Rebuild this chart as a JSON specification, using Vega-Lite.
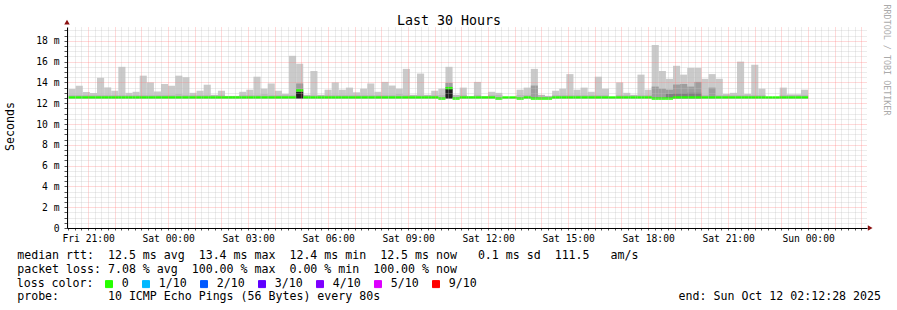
{
 "$schema": "https://vega.github.io/schema/vega-lite/v6.json",
 "width": 800, "height": 201,
 "autosize": {"type": "none"},
 "padding": {"left": 67, "top": 27, "right": 30, "bottom": 82},
 "background": "white",
 "config": {"font": "DejaVu Sans Mono", "view": {"stroke": null}},
 "datasets": {
  "smoke": [
   {"t":"2025-10-10T20:16:00Z","e":"2025-10-10T20:32:00Z","lo":12.45,"hi":13.37,"mid":12.8,"med":12.55,"loss":"0"},
   {"t":"2025-10-10T20:32:00Z","e":"2025-10-10T20:48:00Z","lo":12.45,"hi":13.68,"mid":12.8,"med":12.55,"loss":"0"},
   {"t":"2025-10-10T20:48:00Z","e":"2025-10-10T21:04:00Z","lo":12.45,"hi":13.08,"mid":12.8,"med":12.55,"loss":"0"},
   {"t":"2025-10-10T21:04:00Z","e":"2025-10-10T21:20:00Z","lo":12.45,"hi":12.98,"mid":12.8,"med":12.55,"loss":"0"},
   {"t":"2025-10-10T21:20:00Z","e":"2025-10-10T21:36:00Z","lo":12.45,"hi":14.45,"mid":12.8,"med":12.55,"loss":"0"},
   {"t":"2025-10-10T21:36:00Z","e":"2025-10-10T21:52:00Z","lo":12.45,"hi":13.52,"mid":12.8,"med":12.55,"loss":"0"},
   {"t":"2025-10-10T21:52:00Z","e":"2025-10-10T22:08:00Z","lo":12.45,"hi":13.2,"mid":12.8,"med":12.55,"loss":"0"},
   {"t":"2025-10-10T22:08:00Z","e":"2025-10-10T22:24:00Z","lo":12.45,"hi":15.5,"mid":12.8,"med":12.55,"loss":"0"},
   {"t":"2025-10-10T22:24:00Z","e":"2025-10-10T22:40:00Z","lo":12.45,"hi":13.0,"mid":12.8,"med":12.55,"loss":"0"},
   {"t":"2025-10-10T22:40:00Z","e":"2025-10-10T22:56:00Z","lo":12.45,"hi":13.1,"mid":12.8,"med":12.55,"loss":"0"},
   {"t":"2025-10-10T22:56:00Z","e":"2025-10-10T23:12:00Z","lo":12.45,"hi":14.65,"mid":12.8,"med":12.55,"loss":"0"},
   {"t":"2025-10-10T23:12:00Z","e":"2025-10-10T23:28:00Z","lo":12.45,"hi":14.0,"mid":12.8,"med":12.55,"loss":"0"},
   {"t":"2025-10-10T23:28:00Z","e":"2025-10-10T23:44:00Z","lo":12.45,"hi":13.13,"mid":12.8,"med":12.55,"loss":"0"},
   {"t":"2025-10-10T23:44:00Z","e":"2025-10-11T00:00:00Z","lo":12.45,"hi":13.85,"mid":12.8,"med":12.55,"loss":"0"},
   {"t":"2025-10-11T00:00:00Z","e":"2025-10-11T00:16:00Z","lo":12.45,"hi":13.68,"mid":12.8,"med":12.55,"loss":"0"},
   {"t":"2025-10-11T00:16:00Z","e":"2025-10-11T00:32:00Z","lo":12.45,"hi":14.65,"mid":12.87,"med":12.55,"loss":"0"},
   {"t":"2025-10-11T00:32:00Z","e":"2025-10-11T00:48:00Z","lo":12.45,"hi":14.5,"mid":12.8,"med":12.55,"loss":"0"},
   {"t":"2025-10-11T00:48:00Z","e":"2025-10-11T01:04:00Z","lo":12.45,"hi":13.0,"mid":12.8,"med":12.55,"loss":"0"},
   {"t":"2025-10-11T01:04:00Z","e":"2025-10-11T01:20:00Z","lo":12.45,"hi":13.2,"mid":12.8,"med":12.55,"loss":"0"},
   {"t":"2025-10-11T01:20:00Z","e":"2025-10-11T01:36:00Z","lo":12.45,"hi":13.78,"mid":12.8,"med":12.55,"loss":"0"},
   {"t":"2025-10-11T01:36:00Z","e":"2025-10-11T01:52:00Z","lo":12.45,"hi":12.8,"mid":12.8,"med":12.55,"loss":"0"},
   {"t":"2025-10-11T01:52:00Z","e":"2025-10-11T02:08:00Z","lo":12.45,"hi":13.2,"mid":12.8,"med":12.55,"loss":"0"},
   {"t":"2025-10-11T02:08:00Z","e":"2025-10-11T02:24:00Z","lo":12.45,"hi":12.7,"mid":12.7,"med":12.55,"loss":"0"},
   {"t":"2025-10-11T02:24:00Z","e":"2025-10-11T02:40:00Z","lo":12.45,"hi":12.7,"mid":12.7,"med":12.55,"loss":"0"},
   {"t":"2025-10-11T02:40:00Z","e":"2025-10-11T02:56:00Z","lo":12.45,"hi":13.1,"mid":12.8,"med":12.55,"loss":"0"},
   {"t":"2025-10-11T02:56:00Z","e":"2025-10-11T03:12:00Z","lo":12.45,"hi":13.3,"mid":12.8,"med":12.55,"loss":"0"},
   {"t":"2025-10-11T03:12:00Z","e":"2025-10-11T03:28:00Z","lo":12.45,"hi":14.55,"mid":12.8,"med":12.55,"loss":"0"},
   {"t":"2025-10-11T03:28:00Z","e":"2025-10-11T03:44:00Z","lo":12.45,"hi":13.4,"mid":12.87,"med":12.55,"loss":"0"},
   {"t":"2025-10-11T03:44:00Z","e":"2025-10-11T04:00:00Z","lo":12.45,"hi":13.9,"mid":12.8,"med":12.55,"loss":"0"},
   {"t":"2025-10-11T04:00:00Z","e":"2025-10-11T04:16:00Z","lo":12.45,"hi":13.2,"mid":12.8,"med":12.55,"loss":"0"},
   {"t":"2025-10-11T04:16:00Z","e":"2025-10-11T04:32:00Z","lo":12.45,"hi":12.9,"mid":12.8,"med":12.55,"loss":"0"},
   {"t":"2025-10-11T04:32:00Z","e":"2025-10-11T04:48:00Z","lo":12.45,"hi":16.56,"mid":12.8,"med":12.55,"loss":"0"},
   {"t":"2025-10-11T04:48:00Z","e":"2025-10-11T05:04:00Z","lo":12.45,"hi":15.8,"mid":12.8,"med":13.23,"loss":"0","dk":13.9,"bk":13.1},
   {"t":"2025-10-11T05:04:00Z","e":"2025-10-11T05:20:00Z","lo":12.45,"hi":12.8,"mid":12.8,"med":12.55,"loss":"0"},
   {"t":"2025-10-11T05:20:00Z","e":"2025-10-11T05:36:00Z","lo":12.45,"hi":15.1,"mid":12.8,"med":12.55,"loss":"0"},
   {"t":"2025-10-11T05:36:00Z","e":"2025-10-11T05:52:00Z","lo":12.45,"hi":12.8,"mid":12.8,"med":12.55,"loss":"0"},
   {"t":"2025-10-11T05:52:00Z","e":"2025-10-11T06:08:00Z","lo":12.45,"hi":13.3,"mid":12.8,"med":12.55,"loss":"0"},
   {"t":"2025-10-11T06:08:00Z","e":"2025-10-11T06:24:00Z","lo":12.45,"hi":14.0,"mid":12.8,"med":12.55,"loss":"0"},
   {"t":"2025-10-11T06:24:00Z","e":"2025-10-11T06:40:00Z","lo":12.45,"hi":13.3,"mid":12.8,"med":12.55,"loss":"0"},
   {"t":"2025-10-11T06:40:00Z","e":"2025-10-11T06:56:00Z","lo":12.45,"hi":13.5,"mid":12.8,"med":12.55,"loss":"0"},
   {"t":"2025-10-11T06:56:00Z","e":"2025-10-11T07:12:00Z","lo":12.45,"hi":13.05,"mid":12.8,"med":12.55,"loss":"0"},
   {"t":"2025-10-11T07:12:00Z","e":"2025-10-11T07:28:00Z","lo":12.45,"hi":13.4,"mid":12.8,"med":12.55,"loss":"0"},
   {"t":"2025-10-11T07:28:00Z","e":"2025-10-11T07:44:00Z","lo":12.45,"hi":13.9,"mid":12.8,"med":12.55,"loss":"0"},
   {"t":"2025-10-11T07:44:00Z","e":"2025-10-11T08:00:00Z","lo":12.45,"hi":13.1,"mid":12.8,"med":12.55,"loss":"0"},
   {"t":"2025-10-11T08:00:00Z","e":"2025-10-11T08:16:00Z","lo":12.45,"hi":14.05,"mid":12.8,"med":12.55,"loss":"0"},
   {"t":"2025-10-11T08:16:00Z","e":"2025-10-11T08:32:00Z","lo":12.45,"hi":13.7,"mid":12.8,"med":12.55,"loss":"0"},
   {"t":"2025-10-11T08:32:00Z","e":"2025-10-11T08:48:00Z","lo":12.45,"hi":13.4,"mid":12.87,"med":12.55,"loss":"0"},
   {"t":"2025-10-11T08:48:00Z","e":"2025-10-11T09:04:00Z","lo":12.45,"hi":15.3,"mid":12.8,"med":12.55,"loss":"0"},
   {"t":"2025-10-11T09:04:00Z","e":"2025-10-11T09:20:00Z","lo":12.45,"hi":12.8,"mid":12.8,"med":12.55,"loss":"0"},
   {"t":"2025-10-11T09:20:00Z","e":"2025-10-11T09:36:00Z","lo":12.45,"hi":14.85,"mid":12.8,"med":12.55,"loss":"0"},
   {"t":"2025-10-11T09:36:00Z","e":"2025-10-11T09:52:00Z","lo":12.45,"hi":12.8,"mid":12.8,"med":12.55,"loss":"0"},
   {"t":"2025-10-11T09:52:00Z","e":"2025-10-11T10:08:00Z","lo":12.45,"hi":13.2,"mid":12.8,"med":12.55,"loss":"0"},
   {"t":"2025-10-11T10:08:00Z","e":"2025-10-11T10:24:00Z","lo":12.45,"hi":13.4,"mid":12.8,"med":12.45,"loss":"0"},
   {"t":"2025-10-11T10:24:00Z","e":"2025-10-11T10:40:00Z","lo":12.45,"hi":15.5,"mid":12.8,"med":13.45,"loss":"0","dk":13.95,"bk":13.36},
   {"t":"2025-10-11T10:40:00Z","e":"2025-10-11T10:56:00Z","lo":12.45,"hi":12.8,"mid":12.8,"med":12.45,"loss":"0"},
   {"t":"2025-10-11T10:56:00Z","e":"2025-10-11T11:12:00Z","lo":12.45,"hi":13.5,"mid":12.8,"med":12.55,"loss":"0"},
   {"t":"2025-10-11T11:12:00Z","e":"2025-10-11T11:28:00Z","lo":12.45,"hi":12.65,"mid":12.65,"med":12.55,"loss":"0"},
   {"t":"2025-10-11T11:28:00Z","e":"2025-10-11T11:44:00Z","lo":12.45,"hi":14.05,"mid":12.8,"med":12.55,"loss":"0"},
   {"t":"2025-10-11T11:44:00Z","e":"2025-10-11T12:00:00Z","lo":12.45,"hi":12.65,"mid":12.65,"med":12.55,"loss":"0"},
   {"t":"2025-10-11T12:00:00Z","e":"2025-10-11T12:16:00Z","lo":12.45,"hi":13.1,"mid":12.8,"med":12.55,"loss":"0"},
   {"t":"2025-10-11T12:16:00Z","e":"2025-10-11T12:32:00Z","lo":12.45,"hi":13.0,"mid":12.8,"med":12.45,"loss":"0"},
   {"t":"2025-10-11T12:32:00Z","e":"2025-10-11T12:48:00Z","lo":12.45,"hi":12.6,"mid":12.6,"med":12.55,"loss":"0"},
   {"t":"2025-10-11T12:48:00Z","e":"2025-10-11T13:04:00Z","lo":12.45,"hi":12.6,"mid":12.6,"med":12.55,"loss":"0"},
   {"t":"2025-10-11T13:04:00Z","e":"2025-10-11T13:20:00Z","lo":12.45,"hi":13.3,"mid":12.8,"med":12.45,"loss":"0"},
   {"t":"2025-10-11T13:20:00Z","e":"2025-10-11T13:36:00Z","lo":12.45,"hi":13.5,"mid":12.8,"med":12.55,"loss":"0"},
   {"t":"2025-10-11T13:36:00Z","e":"2025-10-11T13:52:00Z","lo":12.45,"hi":15.3,"mid":12.8,"med":12.45,"loss":"0","dk":13.7},
   {"t":"2025-10-11T13:52:00Z","e":"2025-10-11T14:08:00Z","lo":12.45,"hi":12.8,"mid":12.8,"med":12.45,"loss":"0"},
   {"t":"2025-10-11T14:08:00Z","e":"2025-10-11T14:24:00Z","lo":12.45,"hi":12.7,"mid":12.7,"med":12.45,"loss":"0"},
   {"t":"2025-10-11T14:24:00Z","e":"2025-10-11T14:40:00Z","lo":12.45,"hi":13.2,"mid":12.8,"med":12.55,"loss":"0"},
   {"t":"2025-10-11T14:40:00Z","e":"2025-10-11T14:56:00Z","lo":12.45,"hi":13.4,"mid":12.8,"med":12.55,"loss":"0"},
   {"t":"2025-10-11T14:56:00Z","e":"2025-10-11T15:12:00Z","lo":12.45,"hi":14.8,"mid":12.8,"med":12.55,"loss":"0"},
   {"t":"2025-10-11T15:12:00Z","e":"2025-10-11T15:28:00Z","lo":12.45,"hi":13.3,"mid":12.8,"med":12.55,"loss":"0"},
   {"t":"2025-10-11T15:28:00Z","e":"2025-10-11T15:44:00Z","lo":12.45,"hi":13.5,"mid":12.8,"med":12.55,"loss":"0"},
   {"t":"2025-10-11T15:44:00Z","e":"2025-10-11T16:00:00Z","lo":12.45,"hi":13.1,"mid":12.8,"med":12.55,"loss":"0"},
   {"t":"2025-10-11T16:00:00Z","e":"2025-10-11T16:16:00Z","lo":12.45,"hi":14.55,"mid":12.8,"med":12.55,"loss":"0"},
   {"t":"2025-10-11T16:16:00Z","e":"2025-10-11T16:32:00Z","lo":12.45,"hi":13.4,"mid":12.8,"med":12.55,"loss":"0"},
   {"t":"2025-10-11T16:32:00Z","e":"2025-10-11T16:48:00Z","lo":12.45,"hi":12.6,"mid":12.6,"med":12.55,"loss":"0"},
   {"t":"2025-10-11T16:48:00Z","e":"2025-10-11T17:04:00Z","lo":12.45,"hi":14.0,"mid":12.8,"med":12.55,"loss":"0"},
   {"t":"2025-10-11T17:04:00Z","e":"2025-10-11T17:20:00Z","lo":12.45,"hi":13.0,"mid":12.8,"med":12.55,"loss":"0"},
   {"t":"2025-10-11T17:20:00Z","e":"2025-10-11T17:36:00Z","lo":12.45,"hi":12.8,"mid":12.8,"med":12.55,"loss":"0"},
   {"t":"2025-10-11T17:36:00Z","e":"2025-10-11T17:52:00Z","lo":12.45,"hi":14.75,"mid":12.8,"med":12.55,"loss":"0"},
   {"t":"2025-10-11T17:52:00Z","e":"2025-10-11T18:08:00Z","lo":12.45,"hi":13.3,"mid":12.8,"med":12.55,"loss":"0"},
   {"t":"2025-10-11T18:08:00Z","e":"2025-10-11T18:24:00Z","lo":12.45,"hi":17.6,"mid":12.8,"med":12.45,"loss":"0","dk":13.6},
   {"t":"2025-10-11T18:24:00Z","e":"2025-10-11T18:40:00Z","lo":12.45,"hi":15.1,"mid":12.8,"med":12.45,"loss":"0","dk":13.4},
   {"t":"2025-10-11T18:40:00Z","e":"2025-10-11T18:56:00Z","lo":12.45,"hi":14.35,"mid":12.8,"med":12.45,"loss":"0","dk":13.3,"dd":12.9},
   {"t":"2025-10-11T18:56:00Z","e":"2025-10-11T19:12:00Z","lo":12.45,"hi":15.6,"mid":12.8,"med":12.55,"loss":"0","dk":13.8,"dd":12.95},
   {"t":"2025-10-11T19:12:00Z","e":"2025-10-11T19:28:00Z","lo":12.45,"hi":14.75,"mid":12.8,"med":12.55,"loss":"0","dk":13.85,"dd":12.95},
   {"t":"2025-10-11T19:28:00Z","e":"2025-10-11T19:44:00Z","lo":12.45,"hi":15.4,"mid":12.8,"med":12.55,"loss":"0","dk":13.6,"dd":13.0},
   {"t":"2025-10-11T19:44:00Z","e":"2025-10-11T20:00:00Z","lo":12.45,"hi":15.4,"mid":12.8,"med":12.55,"loss":"0","dk":14.05,"dd":13.0},
   {"t":"2025-10-11T20:00:00Z","e":"2025-10-11T20:16:00Z","lo":12.45,"hi":14.35,"mid":12.8,"med":12.55,"loss":"0"},
   {"t":"2025-10-11T20:16:00Z","e":"2025-10-11T20:32:00Z","lo":12.45,"hi":14.8,"mid":12.8,"med":12.55,"loss":"0","dk":13.5},
   {"t":"2025-10-11T20:32:00Z","e":"2025-10-11T20:48:00Z","lo":12.45,"hi":14.35,"mid":12.8,"med":12.55,"loss":"0"},
   {"t":"2025-10-11T20:48:00Z","e":"2025-10-11T21:04:00Z","lo":12.45,"hi":12.9,"mid":12.8,"med":12.55,"loss":"0"},
   {"t":"2025-10-11T21:04:00Z","e":"2025-10-11T21:20:00Z","lo":12.45,"hi":13.0,"mid":12.8,"med":12.55,"loss":"0"},
   {"t":"2025-10-11T21:20:00Z","e":"2025-10-11T21:36:00Z","lo":12.45,"hi":16.0,"mid":12.8,"med":12.55,"loss":"0"},
   {"t":"2025-10-11T21:36:00Z","e":"2025-10-11T21:52:00Z","lo":12.45,"hi":12.9,"mid":12.8,"med":12.55,"loss":"0"},
   {"t":"2025-10-11T21:52:00Z","e":"2025-10-11T22:08:00Z","lo":12.45,"hi":15.7,"mid":12.8,"med":12.55,"loss":"0"},
   {"t":"2025-10-11T22:08:00Z","e":"2025-10-11T22:24:00Z","lo":12.45,"hi":13.4,"mid":12.8,"med":12.55,"loss":"0"},
   {"t":"2025-10-11T22:24:00Z","e":"2025-10-11T22:40:00Z","lo":12.45,"hi":12.6,"mid":12.6,"med":12.55,"loss":"0"},
   {"t":"2025-10-11T22:40:00Z","e":"2025-10-11T22:56:00Z","lo":12.45,"hi":12.6,"mid":12.6,"med":12.55,"loss":"0"},
   {"t":"2025-10-11T22:56:00Z","e":"2025-10-11T23:12:00Z","lo":12.45,"hi":13.5,"mid":12.8,"med":12.55,"loss":"0"},
   {"t":"2025-10-11T23:12:00Z","e":"2025-10-11T23:28:00Z","lo":12.45,"hi":12.85,"mid":12.8,"med":12.55,"loss":"0"},
   {"t":"2025-10-11T23:28:00Z","e":"2025-10-11T23:44:00Z","lo":12.45,"hi":12.85,"mid":12.8,"med":12.55,"loss":"0"},
   {"t":"2025-10-11T23:44:00Z","e":"2025-10-12T00:00:00Z","lo":12.45,"hi":13.3,"mid":12.8,"med":12.55,"loss":"0"}
  ]
 },
 "data": {"name": "smoke"},
 "layer": [
  {
   "mark": {"type": "rect", "color": "#cacaca"},
   "encoding": {
    "x": {"field": "t", "type": "temporal",
     "scale": {"type": "utc", "domain": [{"year": 2025, "month": "oct", "date": 10, "hours": 20, "minutes": 12, "seconds": 28, "utc": true}, {"year": 2025, "month": "oct", "date": 12, "hours": 2, "minutes": 12, "seconds": 28, "utc": true}], "nice": false},
     "axis": {
      "orient": "bottom",
      "values": [1760127300000,1760128200000,1760129100000,
       1760130000000,1760130900000,1760131800000,1760132700000,
       1760133600000,1760134500000,1760135400000,1760136300000,
       1760137200000,1760138100000,1760139000000,1760139900000,
       1760140800000,1760141700000,1760142600000,1760143500000,
       1760144400000,1760145300000,1760146200000,1760147100000,
       1760148000000,1760148900000,1760149800000,1760150700000,
       1760151600000,1760152500000,1760153400000,1760154300000,
       1760155200000,1760156100000,1760157000000,1760157900000,
       1760158800000,1760159700000,1760160600000,1760161500000,
       1760162400000,1760163300000,1760164200000,1760165100000,
       1760166000000,1760166900000,1760167800000,1760168700000,
       1760169600000,1760170500000,1760171400000,1760172300000,
       1760173200000,1760174100000,1760175000000,1760175900000,
       1760176800000,1760177700000,1760178600000,1760179500000,
       1760180400000,1760181300000,1760182200000,1760183100000,
       1760184000000,1760184900000,1760185800000,1760186700000,
       1760187600000,1760188500000,1760189400000,1760190300000,
       1760191200000,1760192100000,1760193000000,1760193900000,
       1760194800000,1760195700000,1760196600000,1760197500000,
       1760198400000,1760199300000,1760200200000,1760201100000,
       1760202000000,1760202900000,1760203800000,1760204700000,
       1760205600000,1760206500000,1760207400000,1760208300000,
       1760209200000,1760210100000,1760211000000,1760211900000,
       1760212800000,1760213700000,1760214600000,1760215500000,
       1760216400000,1760217300000,1760218200000,1760219100000,
       1760220000000,1760220900000,1760221800000,1760222700000,
       1760223600000,1760224500000,1760225400000,1760226300000,
       1760227200000,1760228100000,1760229000000,1760229900000,
       1760230800000,1760231700000,1760232600000,1760233500000,
       1760234400000],
      "labelExpr": "utcminutes(datum.value) == 0 && utchours(datum.value) % 3 == 0 ? utcFormat(datum.value, '%a %H:%M') : ''",
      "labelOverlap": false, "labelFlush": false, "labelBound": false,
      "labelFont": "DejaVu Sans Mono", "labelFontSize": 9.7, "labelColor": "#000", "labelPadding": 3, "labelBaseline": "top",
      "grid": true,
      "gridColor": {"condition": {"test": "utcminutes(datum.value) == 0", "value": "#ff8080"}, "value": "#c0c0c0"},
      "gridOpacity": 0.6, "gridDash": [1, 1], "gridWidth": 1,
      "ticks": true, "tickSize": 2, "tickColor": "#555",
      "domain": true, "domainColor": "#000", "domainWidth": 1,
      "zindex": 1,
      "title": ["median rtt: \u00a012.5 ms avg \u00a013.4 ms max \u00a012.4 ms min \u00a012.5 ms now \u00a0\u00a00.1 ms sd \u00a0111.5 \u00a0\u00a0am/s",
                "packet loss: 7.08 % avg \u00a0100.00 % max \u00a00.00 % min \u00a0100.00 % now"],
      "titleFont": "DejaVu Sans Mono", "titleFontSize": 11.6, "titleFontWeight": "normal", "titleColor": "#000",
      "titleAlign": "left", "titleAnchor": "start", "titleBaseline": "alphabetic",
      "titleX": -50.3, "titleY": 30.3, "titleLineHeight": 13.9
     }},
    "x2": {"field": "e"},
    "y": {"field": "lo", "type": "quantitative",
     "scale": {"domain": [0, 19.33], "nice": false, "zero": false},
     "axis": {
      "orient": "left",
      "values": [0,0.5,1,1.5,2,2.5,3,3.5,4,4.5,5,5.5,6,6.5,7,7.5,8,8.5,9,9.5,10,10.5,11,11.5,12,12.5,13,13.5,14,14.5,15,15.5,16,16.5,17,17.5,18,18.5,19],
      "labelExpr": "datum.value == 0 ? '0' : (datum.value % 2 == 0 ? datum.value + ' m' : '')",
      "labelFont": "DejaVu Sans Mono", "labelFontSize": 9.7, "labelColor": "#000", "labelPadding": 5,
      "labelOverlap": false, "labelBound": false, "labelFlush": false,
      "grid": true,
      "gridColor": {"condition": {"test": "datum.value % 2 == 0", "value": "#ff8080"}, "value": "#c0c0c0"},
      "gridOpacity": 0.6, "gridDash": [1, 1], "gridWidth": 1,
      "ticks": true, "tickSize": 3, "tickColor": "#555",
      "domain": true, "domainColor": "#000", "domainWidth": 1,
      "zindex": 1,
      "title": "Seconds", "titleFont": "DejaVu Sans Mono", "titleFontSize": 11.6, "titleFontWeight": "normal", "titleColor": "#000",
      "titleAngle": 270, "titleAlign": "center", "titleBaseline": "middle", "titleX": -56.2, "titleY": 99
     }},
    "y2": {"field": "hi"}
   }
  },
  {
   "mark": {"type": "rect", "color": "#b9b9b9"},
   "encoding": {
    "x": {"field": "t", "type": "temporal",
     "axis": {"orient": "top", "grid": false, "ticks": false, "labels": false, "domain": false,
      "title": "Last 30 Hours", "titleFont": "DejaVu Sans Mono", "titleFontSize": 13.3, "titleFontWeight": "normal", "titleColor": "#000",
      "titleAlign": "center", "titleBaseline": "alphabetic", "titleX": 381.5, "titleY": -3}},
    "x2": {"field": "e"},
    "y": {"field": "lo", "type": "quantitative",
     "axis": {"orient": "right", "grid": false, "ticks": false, "labels": false, "domain": false,
      "title": "RRDTOOL / TOBI OETIKER", "titleFont": "DejaVu Sans Mono", "titleFontSize": 8.4, "titleFontWeight": "normal", "titleColor": "#aaaaaa",
      "titleAngle": 90, "titleAlign": "center", "titleBaseline": "middle", "titleX": 19, "titleY": 32.5}},
    "y2": {"field": "mid"}
   }
  },
  {
   "transform": [{"filter": "isValid(datum.dk)"}],
   "mark": {"type": "rect", "color": "#9e9e9e"},
   "encoding": {
    "x": {"field": "t", "type": "temporal",
     "axis": {"orient": "bottom", "grid": false, "ticks": false, "labels": false, "domain": false,
      "title": "end: Sun Oct 12 02:12:28 2025", "titleFont": "DejaVu Sans Mono", "titleFontSize": 11.6, "titleFontWeight": "normal", "titleColor": "#000",
      "titleAlign": "right", "titleBaseline": "alphabetic", "titleX": 813.5, "titleY": 71.4}},
    "x2": {"field": "e"},
    "y": {"field": "lo", "type": "quantitative", "axis": null},
    "y2": {"field": "dk"}
   }
  },
  {
   "transform": [{"filter": "isValid(datum.dd)"}],
   "mark": {"type": "rect", "color": "#7f7f7f"},
   "encoding": {
    "x": {"field": "t", "type": "temporal",
     "axis": {"orient": "bottom", "grid": false, "ticks": false, "labels": false, "domain": false,
      "title": "probe: \u00a0\u00a0\u00a0\u00a0\u00a0\u00a010 ICMP Echo Pings (56 Bytes) every 80s", "titleFont": "DejaVu Sans Mono", "titleFontSize": 11.6, "titleFontWeight": "normal", "titleColor": "#000",
      "titleAlign": "left", "titleBaseline": "alphabetic", "titleX": -50.3, "titleY": 71.4}},
    "x2": {"field": "e"},
    "y": {"field": "lo", "type": "quantitative", "axis": null},
    "y2": {"field": "dd"}
   }
  },
  {
   "transform": [{"filter": "isValid(datum.bk)"}],
   "mark": {"type": "rect", "color": "#202020"},
   "encoding": {
    "x": {"field": "t", "type": "temporal", "axis": null},
    "x2": {"field": "e"},
    "y": {"field": "lo", "type": "quantitative", "axis": null},
    "y2": {"field": "bk"}
   }
  },
  {
   "mark": {"type": "rule", "strokeWidth": 2.4, "strokeCap": "butt"},
   "encoding": {
    "x": {"field": "t", "type": "temporal", "axis": null},
    "x2": {"field": "e"},
    "y": {"field": "med", "type": "quantitative", "axis": null},
    "color": {"field": "loss", "type": "nominal",
     "scale": {"domain": ["0", "1/10", "2/10", "3/10", "4/10", "5/10", "9/10"],
               "range": ["#26ff00", "#00b8ff", "#0059ff", "#5e00ff", "#7e00ff", "#dd00ff", "#ff0000"]},
     "legend": {"title": "loss color:", "orient": "none", "legendX": -50.3, "legendY": 251,
      "direction": "horizontal", "titleOrient": "left",
      "titleFont": "DejaVu Sans Mono", "titleFontSize": 11.6, "titleFontWeight": "normal", "titleColor": "#000", "titlePadding": 9.5,
      "labelFont": "DejaVu Sans Mono", "labelFontSize": 11.6, "labelColor": "#000", "labelOffset": 7,
      "symbolType": "square", "symbolSize": 49, "columnPadding": 11,
      "symbolStrokeColor": "#000", "symbolStrokeWidth": 1, "symbolOpacity": 1,
      "encode": {"symbols": {"update": {"fill": {"scale": "color", "field": "value"}, "stroke": {"value": "#000"}}}}}}
   }
  },
  {
   "data": {"values": [{"t": "2025-10-12T02:19:40Z", "v": 0}]},
   "mark": {"type": "point", "shape": "triangle-right", "filled": true, "color": "#8b1010", "size": 30, "opacity": 1},
   "encoding": {
    "x": {"field": "t", "type": "temporal", "axis": null},
    "y": {"field": "v", "type": "quantitative", "axis": null}
   }
  },
  {
   "data": {"values": [{"t": "2025-10-10T20:12:28Z", "v": 19.8}]},
   "mark": {"type": "point", "shape": "triangle-up", "filled": true, "color": "#8b1010", "size": 30, "opacity": 1},
   "encoding": {
    "x": {"field": "t", "type": "temporal", "axis": null},
    "y": {"field": "v", "type": "quantitative", "axis": null}
   }
  }
 ],
 "resolve": {"axis": {"x": "independent", "y": "independent"}}
}
